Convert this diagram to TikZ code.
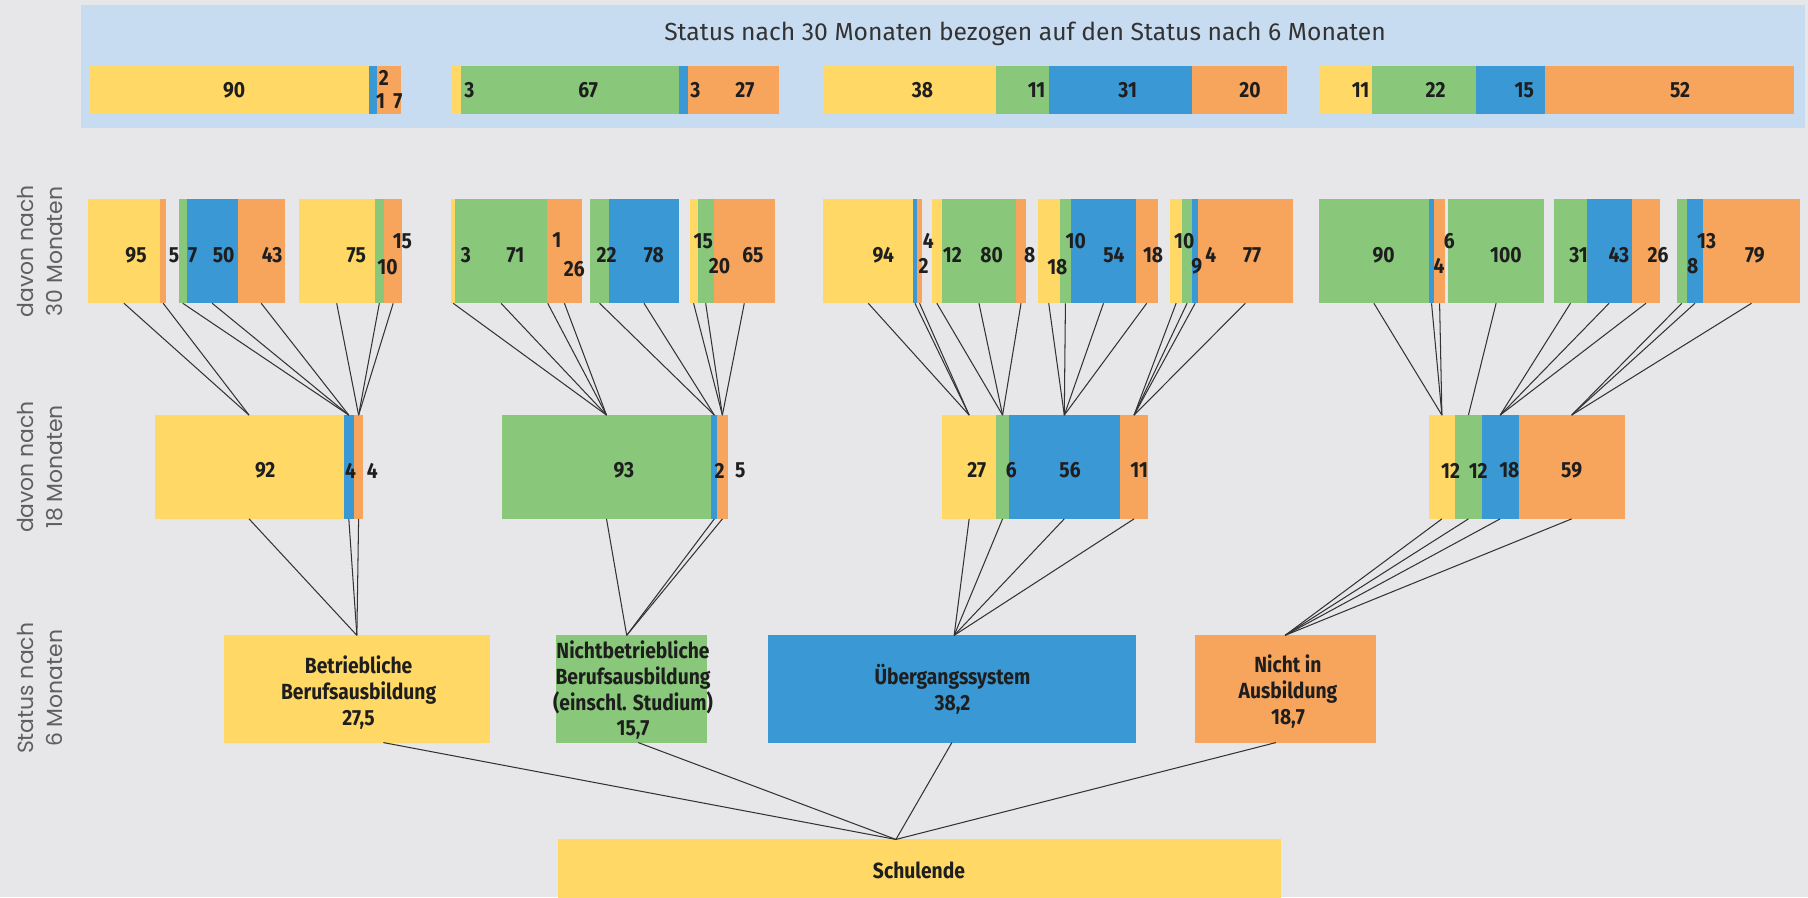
\documentclass[tikz,border=0pt]{standalone}
\usepackage{fontspec}
\setmainfont{Fira Sans}
\newfontfamily\numf{Fira Sans}[FakeStretch=0.88]
\newfontfamily\sidef{Poppins}
\definecolor{bg}{RGB}{231,231,233}
\definecolor{band}{RGB}{199,220,240}
\definecolor{cy}{RGB}{255,216,102}
\definecolor{cg}{RGB}{137,200,122}
\definecolor{cb}{RGB}{58,152,212}
\definecolor{co}{RGB}{247,164,92}
\definecolor{txt}{RGB}{30,30,30}
\definecolor{sidegrey}{RGB}{95,95,95}
\tikzset{
  segbox/.style={rectangle, inner sep=0pt, outer sep=0pt, draw=none},
  num/.style={font=\numf\bfseries\fontsize{9.5}{10}\selectfont, text=txt, inner sep=0pt},
  conn/.style={draw=black!80, line width=0.45pt},
  statlab/.style={align=center, inner sep=0pt, font=\numf\bfseries\fontsize{9.5}{11.25}\selectfont, text=txt},
  side/.style={rotate=90, align=center, inner sep=0pt, font=\sidef\fontsize{9.5}{12.5}\selectfont, text=sidegrey},
  titlelab/.style={inner sep=0pt, font=\fontsize{10.7}{12}\selectfont, text=black!80},
}
\newcommand\seg[6]{\node[segbox, fill=#6, minimum width={(#3-#2)*0.5pt}, minimum height={(#5-#4)*0.5pt}] (#1) at ({(#2+#3)/2},{(#4+#5)/2}) {};}
\newcommand\lab[4]{\node[num] (#1) at (#2,#3) {#4};}
\begin{document}
\begin{tikzpicture}[x=0.5pt,y=-0.5pt]
\fill[bg] (0,0) rectangle (1568,778);
\useasboundingbox (0,0) rectangle (1568,778);
% top band
\node[segbox, fill=band, minimum width={(1565-70)*0.5pt}, minimum height={(111-4)*0.5pt}] (band) at ({(70+1565)/2},{(4+111)/2}) {};
\node[titlelab] (title) at (889,29) {Status nach 30 Monaten bezogen auf den Status nach 6 Monaten};
% row 0
\seg{t1y}{78}{320}{57}{99}{cy}\seg{t1b}{320}{327}{57}{99}{cb}\seg{t1o}{327}{348}{57}{99}{co}
\seg{t2y}{391}{400}{57}{99}{cy}\seg{t2g}{400}{589}{57}{99}{cg}\seg{t2b}{589}{597}{57}{99}{cb}\seg{t2o}{597}{676}{57}{99}{co}
\seg{t3y}{714}{864}{57}{99}{cy}\seg{t3g}{864}{910}{57}{99}{cg}\seg{t3b}{910}{1034}{57}{99}{cb}\seg{t3o}{1034}{1116}{57}{99}{co}
\seg{t4y}{1144}{1190}{57}{99}{cy}\seg{t4g}{1190}{1280}{57}{99}{cg}\seg{t4b}{1280}{1340}{57}{99}{cb}\seg{t4o}{1340}{1556}{57}{99}{co}
\lab{l01}{203}{78}{90}\lab{l02}{333}{68}{2}\lab{l03}{330}{88}{1}\lab{l04}{345}{88}{7}
\lab{l05}{407}{78}{3}\lab{l06}{510}{78}{67}\lab{l07}{603}{78}{3}\lab{l08}{646}{78}{27}
\lab{l09}{800}{78}{38}\lab{l10}{899}{78}{11}\lab{l11}{978}{78}{31}\lab{l12}{1084}{78}{20}
\lab{l13}{1180}{78}{11}\lab{l14}{1245}{78}{22}\lab{l15}{1322}{78}{15}\lab{l16}{1457}{78}{52}
% row 1
\seg{a1y}{76}{139}{173}{263}{cy}\seg{a1o}{139}{144}{173}{263}{co}
\seg{a2g}{155}{162}{173}{263}{cg}\seg{a2b}{162}{206}{173}{263}{cb}\seg{a2o}{206}{247}{173}{263}{co}
\seg{a3y}{259}{325}{173}{263}{cy}\seg{a3g}{325}{333}{173}{263}{cg}\seg{a3o}{333}{349}{173}{263}{co}
\seg{b1y}{391}{395}{173}{263}{cy}\seg{b1g}{395}{474}{173}{263}{cg}\coordinate (b1b) at (475,263);\seg{b1o}{474}{505}{173}{263}{co}
\seg{b2g}{512}{528}{173}{263}{cg}\seg{b2b}{528}{589}{173}{263}{cb}
\seg{b3y}{598}{605}{173}{263}{cy}\seg{b3g}{605}{619}{173}{263}{cg}\seg{b3o}{619}{672}{173}{263}{co}
\seg{c1y}{714}{792}{173}{263}{cy}\seg{c1b}{792}{795}{173}{263}{cb}\seg{c1o}{795}{800}{173}{263}{co}
\seg{c2y}{808}{817}{173}{263}{cy}\seg{c2g}{817}{881}{173}{263}{cg}\seg{c2o}{881}{890}{173}{263}{co}
\seg{c3y}{900}{919}{173}{263}{cy}\seg{c3g}{919}{929}{173}{263}{cg}\seg{c3b}{929}{985}{173}{263}{cb}\seg{c3o}{985}{1004}{173}{263}{co}
\seg{c4y}{1015}{1025}{173}{263}{cy}\seg{c4g}{1025}{1034}{173}{263}{cg}\seg{c4b}{1034}{1039}{173}{263}{cb}\seg{c4o}{1039}{1121}{173}{263}{co}
\seg{d1g}{1144}{1239}{173}{263}{cg}\seg{d1b}{1239}{1244}{173}{263}{cb}\seg{d1o}{1244}{1253}{173}{263}{co}
\seg{d2g}{1256}{1339}{173}{263}{cg}
\seg{d3g}{1348}{1376}{173}{263}{cg}\seg{d3b}{1376}{1415}{173}{263}{cb}\seg{d3o}{1415}{1440}{173}{263}{co}
\seg{d4g}{1454}{1463}{173}{263}{cg}\seg{d4b}{1463}{1477}{173}{263}{cb}\seg{d4o}{1477}{1561}{173}{263}{co}
\lab{m01}{118}{221}{95}\lab{m02}{151}{221}{5}\lab{m03}{167}{221}{7}\lab{m04}{194}{221}{50}\lab{m05}{236}{221}{43}
\lab{m06}{309}{221}{75}\lab{m07}{349}{209}{15}\lab{m08}{336}{232}{10}
\lab{m09}{404}{221}{3}\lab{m10}{447}{221}{71}\lab{m11}{483}{208}{1}\lab{m12}{498}{233}{26}
\lab{m13}{526}{221}{22}\lab{m14}{567}{221}{78}
\lab{m15}{610}{209}{15}\lab{m16}{624}{231}{20}\lab{m17}{653}{221}{65}
\lab{m18}{766}{221}{94}\lab{m19}{805}{209}{4}\lab{m20}{801}{231}{2}
\lab{m21}{826}{221}{12}\lab{m22}{860}{221}{80}\lab{m23}{893}{221}{8}
\lab{m24}{917}{232}{18}\lab{m25}{933}{209}{10}\lab{m26}{966}{221}{54}\lab{m27}{1000}{221}{18}
\lab{m28}{1027}{209}{10}\lab{m29}{1038}{231}{9}\lab{m30}{1050}{221}{4}\lab{m31}{1086}{221}{77}
\lab{m32}{1200}{221}{90}\lab{m33}{1257}{209}{6}\lab{m34}{1248}{231}{4}
\lab{m35}{1306}{221}{100}
\lab{m36}{1369}{221}{31}\lab{m37}{1404}{221}{43}\lab{m38}{1438}{221}{26}
\lab{m39}{1480}{209}{13}\lab{m40}{1468}{231}{8}\lab{m41}{1522}{221}{79}
% row 2
\seg{e1y}{134}{298}{360}{450}{cy}\seg{e1b}{298}{307}{360}{450}{cb}\seg{e1o}{307}{315}{360}{450}{co}
\seg{e2g}{435}{617}{360}{450}{cg}\seg{e2b}{617}{622}{360}{450}{cb}\seg{e2o}{622}{631}{360}{450}{co}
\seg{e3y}{817}{864}{360}{450}{cy}\seg{e3g}{864}{875}{360}{450}{cg}\seg{e3b}{875}{971}{360}{450}{cb}\seg{e3o}{971}{996}{360}{450}{co}
\seg{e4y}{1239}{1262}{360}{450}{cy}\seg{e4g}{1262}{1285}{360}{450}{cg}\seg{e4b}{1285}{1317}{360}{450}{cb}\seg{e4o}{1317}{1409}{360}{450}{co}
\lab{k01}{230}{408}{92}\lab{k02}{304}{408}{4}\lab{k03}{323}{408}{4}
\lab{k04}{541}{408}{93}\lab{k05}{624}{408}{2}\lab{k06}{642}{408}{5}
\lab{k07}{847}{408}{27}\lab{k08}{877}{408}{6}\lab{k09}{928}{408}{56}\lab{k10}{988}{408}{11}
\lab{k11}{1258}{408}{12}\lab{k12}{1282}{408}{12}\lab{k13}{1309}{408}{18}\lab{k14}{1363}{408}{59}
% row 3
\seg{bet}{194}{425}{551}{644}{cy}
\seg{nbet}{482}{613}{551}{644}{cg}
\seg{ueb}{666}{985}{551}{644}{cb}
\seg{nia}{1036}{1193}{551}{644}{co}
\node[statlab] (betl) at (311,600.5) {Betriebliche\\Berufsausbildung\\27,5};
\node[statlab] (nbetl) at (549,598.5) {Nichtbetriebliche\\Berufsausbildung\\(einschl. Studium)\\15,7};
\node[statlab] (uebl) at (826,598) {Übergangssystem\\38,2};
\node[statlab] (nial) at (1117,599.5) {Nicht in\\Ausbildung\\18,7};
% Schulende
\seg{sch}{484}{1111}{728}{780}{cy}
\node[statlab] (schl) at (797,755) {Schulende};
\coordinate (apex) at (777,728);
% side labels
\node[side] (s1) at (35,218) {davon nach\\30 Monaten};
\node[side] (s2) at (35,405) {davon nach\\18 Monaten};
\node[side] (s3) at (35,597) {Status nach\\6 Monaten};
% connectors row1 -> row2
\foreach \s in {a1y,a1o} \draw[conn] (\s.south) -- (e1y.north);
\foreach \s in {a2g,a2b,a2o} \draw[conn] (\s.south) -- (e1b.north);
\foreach \s in {a3y,a3g,a3o} \draw[conn] (\s.south) -- (e1o.north);
\foreach \s in {b1y.south,b1g.south,b1b,b1o.south} \draw[conn] (\s) -- (e2g.north);
\foreach \s in {b2g,b2b} \draw[conn] (\s.south) -- (e2b.north);
\foreach \s in {b3y,b3g,b3o} \draw[conn] (\s.south) -- (e2o.north);
\foreach \s in {c1y,c1b,c1o} \draw[conn] (\s.south) -- (e3y.north);
\foreach \s in {c2y,c2g,c2o} \draw[conn] (\s.south) -- (e3g.north);
\foreach \s in {c3y,c3g,c3b,c3o} \draw[conn] (\s.south) -- (e3b.north);
\foreach \s in {c4y,c4g,c4b,c4o} \draw[conn] (\s.south) -- (e3o.north);
\foreach \s in {d1g,d1b,d1o} \draw[conn] (\s.south) -- (e4y.north);
\foreach \s in {d2g} \draw[conn] (\s.south) -- (e4g.north);
\foreach \s in {d3g,d3b,d3o} \draw[conn] (\s.south) -- (e4b.north);
\foreach \s in {d4g,d4b,d4o} \draw[conn] (\s.south) -- (e4o.north);
% row2 -> row3
\foreach \s in {e1y,e1b,e1o} \draw[conn] (\s.south) -- (bet.north);
\foreach \s in {e2g,e2b,e2o} \draw[conn] (\s.south) -- ([xshift=-2pt]nbet.north);
\foreach \s in {e3y,e3g,e3b,e3o} \draw[conn] (\s.south) -- ([xshift=1pt]ueb.north);
\foreach \s in {e4y,e4g,e4b,e4o} \draw[conn] (\s.south) -- (nia.north);
% row3 -> Schulende
\draw[conn] ([xshift=11.5pt]bet.south) -- (apex);
\draw[conn] ([xshift=3pt]nbet.south) -- (apex);
\draw[conn] (ueb.south) -- (apex);
\draw[conn] ([xshift=-4pt]nia.south) -- (apex);
\end{tikzpicture}
\end{document}
